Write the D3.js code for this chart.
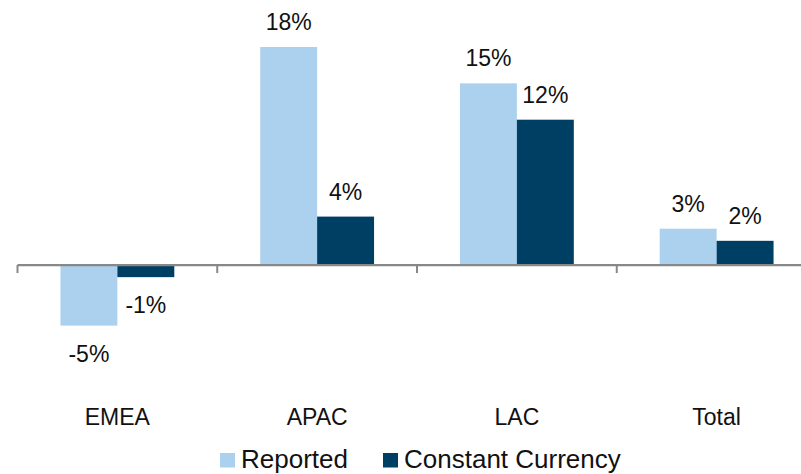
<!DOCTYPE html>
<html>
<head>
<meta charset="utf-8">
<script src="https://cdn.jsdelivr.net/npm/d3@7"></script>
<style>
  html, body { margin: 0; padding: 0; background: #fff; }
  svg { display: block; font-family: "Liberation Sans", Arial, sans-serif; }
</style>
</head>
<body>
<svg id="chart" width="801" height="474"></svg>
<script>
// Growth by region, reported vs. constant currency (%)
const categories = ["EMEA", "APAC", "LAC", "Total"];
const seriesNames = ["Reported", "Constant Currency"];
const reported = [-5, 18, 15, 3];
const constantCurrency = [-1, 4, 12, 2];

const colors = { "Reported": "#abd1ee", "Constant Currency": "#003f64" };

const data = categories.map((c, i) => ({
  category: c,
  values: [
    { series: "Reported", value: reported[i] },
    { series: "Constant Currency", value: constantCurrency[i] }
  ]
}));

const svg = d3.select("#chart");
// plain hyphen for negatives
const fmt = v => (v < 0 ? "-" : "") + d3.format(".0f")(Math.abs(v)) + "%";

// Category bands: the axis runs from the first tick to beyond the right edge
const x = d3.scaleBand()
  .domain(categories)
  .range([17.5, 816.5])
  .paddingInner(0.43)
  .paddingOuter(0.215);

const x1 = d3.scaleBand()
  .domain(seriesNames)
  .range([0, x.bandwidth()]);

const y = d3.scaleLinear()
  .domain([-5, 20])
  .range([325.6, 22.8]);

// Bars
const groups = svg.append("g").selectAll("g")
  .data(data)
  .join("g")
  .attr("transform", d => `translate(${x(d.category)},0)`);

groups.selectAll("rect")
  .data(d => d.values)
  .join("rect")
  .attr("x", d => x1(d.series))
  .attr("width", x1.bandwidth())
  .attr("y", d => y(Math.max(0, d.value)))
  .attr("height", d => Math.abs(y(d.value) - y(0)))
  .attr("fill", d => colors[d.series]);

// Value labels
groups.selectAll("text")
  .data(d => d.values)
  .join("text")
  .attr("x", d => x1(d.series) + x1.bandwidth() / 2)
  .attr("y", d => d.value >= 0 ? y(d.value) - 17 : y(d.value) + 36)
  .attr("text-anchor", "middle")
  .attr("font-size", 23)
  .attr("fill", "#111")
  .text(d => fmt(d.value));

// Zero axis with ticks at band boundaries
const axisG = svg.append("g");
axisG.append("line")
  .attr("x1", x.range()[0]).attr("x2", 801)
  .attr("y1", y(0)).attr("y2", y(0))
  .attr("stroke", "#888").attr("stroke-width", 2.2);

const boundaries = categories.map(c => x(c) - x.step() * x.paddingInner() / 2)
  .concat([x.range()[1]]);
axisG.selectAll("line.tick")
  .data(boundaries)
  .join("line")
  .attr("class", "tick")
  .attr("x1", d => d).attr("x2", d => d)
  .attr("y1", y(0)).attr("y2", y(0) + 8)
  .attr("stroke", "#888").attr("stroke-width", 2);

// Category labels
svg.append("g").selectAll("text")
  .data(categories)
  .join("text")
  .attr("x", c => x(c) + x.bandwidth() / 2)
  .attr("y", 425)
  .attr("text-anchor", "middle")
  .attr("font-size", 23)
  .attr("fill", "#111")
  .text(c => c);

// Legend along the bottom edge
const legendX = [220, 383];
const legend = svg.append("g").selectAll("g")
  .data(seriesNames)
  .join("g")
  .attr("transform", (d, i) => `translate(${legendX[i]},0)`);
legend.append("rect")
  .attr("x", 0).attr("y", 453)
  .attr("width", 15).attr("height", 14.5)
  .attr("fill", d => colors[d]);
legend.append("text")
  .attr("x", 21).attr("y", 467.5)
  .attr("font-size", 26)
  .attr("fill", "#111")
  .text(d => d);
</script>
</body>
</html>
